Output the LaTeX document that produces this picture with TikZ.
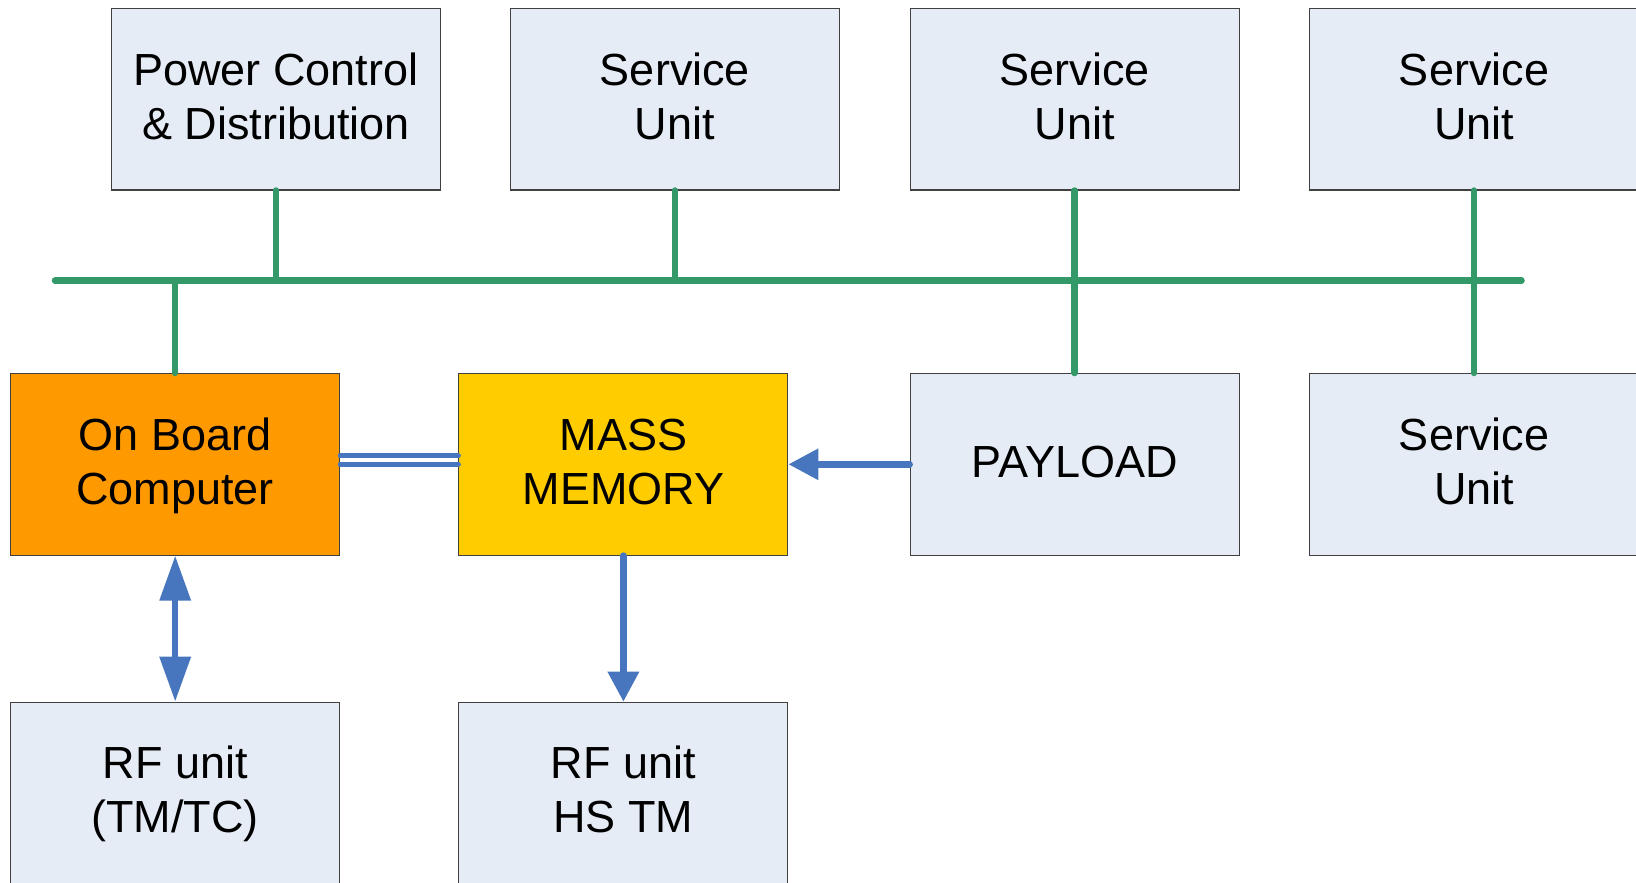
\documentclass[tikz,border=0pt]{standalone}
\usepackage{fontspec}
\setmainfont{Liberation Sans}
\usetikzlibrary{arrows.meta}

\definecolor{unitfill}{RGB}{230,236,246}
\definecolor{obcfill}{RGB}{255,153,0}
\definecolor{mmfill}{RGB}{255,204,0}
\definecolor{busgreen}{RGB}{52,153,104}
\definecolor{linkblue}{RGB}{71,118,191}
\definecolor{edgegray}{RGB}{64,64,64}

% line box of fixed ascent and descent, so every label sits alike
\newcommand{\lbx}{\rule[-14.2pt]{0pt}{54pt}}

\tikzset{
  unit/.style={draw=edgegray, line width=1.1pt, fill=unitfill,
    minimum width=329pt, minimum height=181.5pt, inner sep=0pt,
    align=center, font=\fontsize{45}{54}\selectfont},
  obc/.style={unit, fill=obcfill},
  mm/.style={unit, fill=mmfill},
  bus/.style={busgreen, line width=6.5pt, line cap=round},
  link/.style={linkblue, line width=6.5pt, line cap=round},
  dlink/.style={linkblue, line width=5pt, line cap=round},
  onehead/.style={-{Triangle[length=30pt,width=30pt]}},
  twohead/.style={{Triangle[length=45pt,width=30pt]}-{Triangle[length=45pt,width=30pt]}}
}

\begin{document}
\begin{tikzpicture}[x=1pt, y=-1pt]
  \useasboundingbox (0,0) rectangle (1636,883);
  \clip (0,0) rectangle (1636,883);

  % top row
  \node[unit] (pcd) at (276,99.2) {\lbx Power Control\\\lbx\& Distribution};
  \node[unit] (su1) at (675,99.2) {\lbx Service\\\lbx Unit};
  \node[unit] (su2) at (1074.7,99.2) {\lbx Service\\\lbx Unit};
  \node[unit] (su3) at (1474,99.2) {\lbx Service\\\lbx Unit};

  % middle row
  \node[obc] (obcu) at (175.2,464.3) {\lbx On Board\\\lbx Computer};
  \node[mm] (mass) at (623.4,464.3) {\lbx MASS\\\lbx MEMORY};
  \node[unit] (payload) at (1074.7,464.3) {\lbx PAYLOAD};
  \node[unit] (su4) at (1474,464.3) {\lbx Service\\\lbx Unit};

  % bottom row
  \node[unit] (rf1) at (175.2,793) {\lbx RF unit\\\lbx (TM/TC)};
  \node[unit] (rf2) at (623.4,793) {\lbx RF unit\\\lbx HS TM};

  % data bus
  \coordinate (busL) at (55,280.7);
  \coordinate (busR) at (1521.5,280.7);
  \draw[bus] (busL) -- (busR);
  \draw[bus] (pcd.south) -- (pcd.south |- busL);
  \draw[bus] (su1.south) -- (su1.south |- busL);
  \draw[bus] (su2.south) -- (payload.north);
  \draw[bus] (su3.south) -- (su4.north);
  \draw[bus] (obcu.north |- busL) -- (obcu.north);

  % point-to-point links
  \draw[dlink] (obcu.east) -- (mass.west);
  \draw[dlink] ([yshift=8.6pt]obcu.east) -- ([yshift=8.6pt]mass.west);
  \draw[link, onehead] (payload.west) -- (mass.east);
  \draw[link, onehead] (mass.south) -- (rf2.north);
  \draw[link, twohead] (obcu.south) -- (rf1.north);
\end{tikzpicture}
\end{document}
